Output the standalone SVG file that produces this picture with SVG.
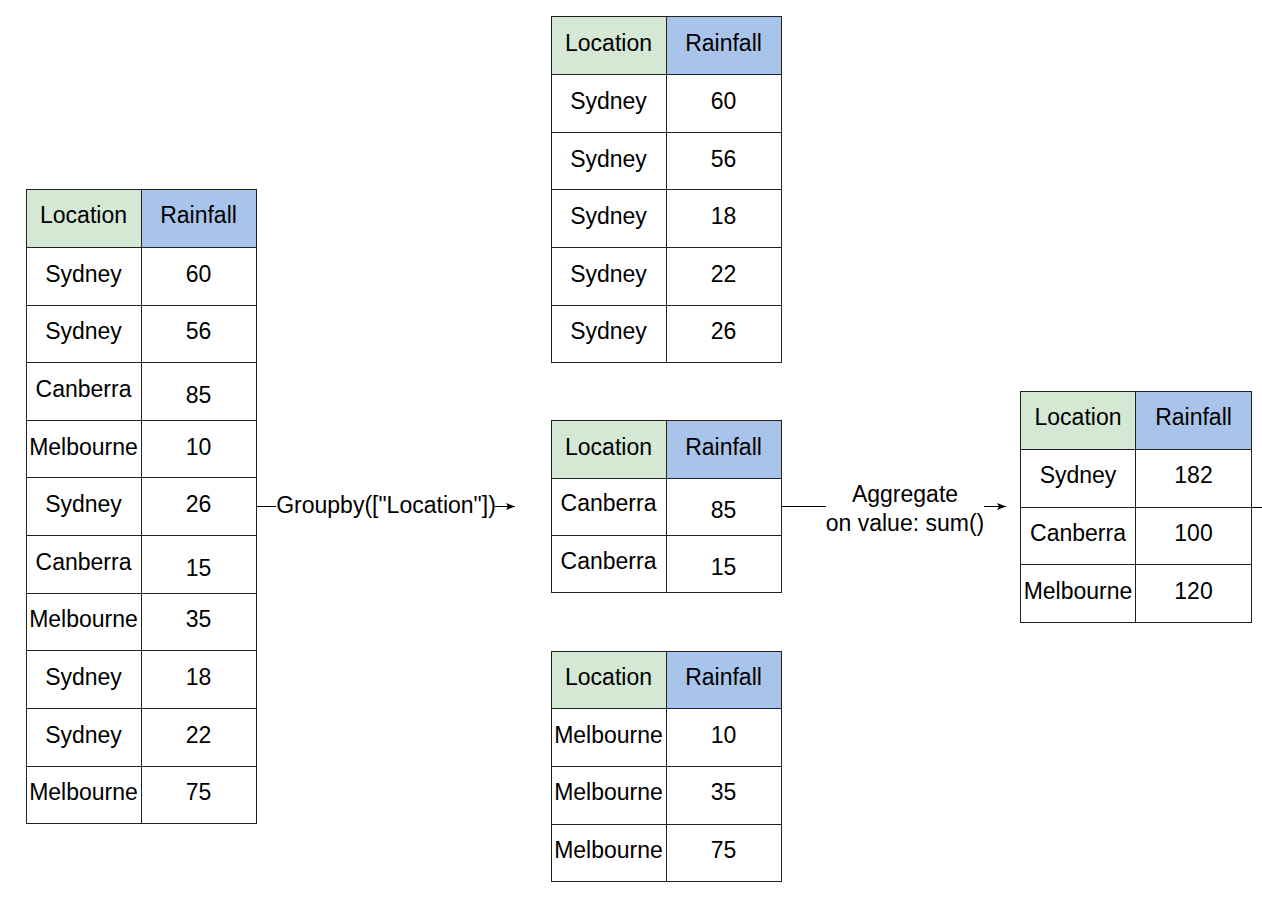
<svg xmlns="http://www.w3.org/2000/svg" width="1262" height="901" viewBox="0 0 1262 901">
<style>
.c{fill:#ffffff;stroke:#222222;stroke-width:1}
.hl{fill:#d5e8d4;stroke:#222222;stroke-width:1}
.hr{fill:#a9c4eb;stroke:#222222;stroke-width:1}
text{font-family:"Liberation Sans",Arial,sans-serif;font-size:23px;fill:#000;text-anchor:middle}
.ln{stroke:#000;stroke-width:1;fill:none}
</style>
<defs>
<marker id="ah" markerWidth="10" markerHeight="8" refX="9" refY="4" orient="auto" markerUnits="userSpaceOnUse">
<path d="M0,0.5 L9,4 L0,7.5 L2,4 Z" fill="#000"/>
</marker>
</defs>

<g id="table-input">
<rect class="hl" x="26.5" y="189.5" width="115" height="58"/>
<rect class="hr" x="141.5" y="189.5" width="115" height="58"/>
<rect class="c" x="26.5" y="247.5" width="115" height="58"/><rect class="c" x="141.5" y="247.5" width="115" height="58"/>
<rect class="c" x="26.5" y="305.5" width="115" height="57"/><rect class="c" x="141.5" y="305.5" width="115" height="57"/>
<rect class="c" x="26.5" y="362.5" width="115" height="58"/><rect class="c" x="141.5" y="362.5" width="115" height="58"/>
<rect class="c" x="26.5" y="420.5" width="115" height="57"/><rect class="c" x="141.5" y="420.5" width="115" height="57"/>
<rect class="c" x="26.5" y="477.5" width="115" height="58"/><rect class="c" x="141.5" y="477.5" width="115" height="58"/>
<rect class="c" x="26.5" y="535.5" width="115" height="58"/><rect class="c" x="141.5" y="535.5" width="115" height="58"/>
<rect class="c" x="26.5" y="593.5" width="115" height="57"/><rect class="c" x="141.5" y="593.5" width="115" height="57"/>
<rect class="c" x="26.5" y="650.5" width="115" height="58"/><rect class="c" x="141.5" y="650.5" width="115" height="58"/>
<rect class="c" x="26.5" y="708.5" width="115" height="58"/><rect class="c" x="141.5" y="708.5" width="115" height="58"/>
<rect class="c" x="26.5" y="766.5" width="115" height="57"/><rect class="c" x="141.5" y="766.5" width="115" height="57"/>
<text x="83.5" y="223">Location</text><text x="198.5" y="223">Rainfall</text>
<text x="83.5" y="282">Sydney</text><text x="198.5" y="282">60</text>
<text x="83.5" y="339">Sydney</text><text x="198.5" y="339">56</text>
<text x="83.5" y="397">Canberra</text><text x="198.5" y="403">85</text>
<text x="83.5" y="455">Melbourne</text><text x="198.5" y="455">10</text>
<text x="83.5" y="512">Sydney</text><text x="198.5" y="512">26</text>
<text x="83.5" y="570">Canberra</text><text x="198.5" y="576">15</text>
<text x="83.5" y="627">Melbourne</text><text x="198.5" y="627">35</text>
<text x="83.5" y="685">Sydney</text><text x="198.5" y="685">18</text>
<text x="83.5" y="743">Sydney</text><text x="198.5" y="743">22</text>
<text x="83.5" y="800">Melbourne</text><text x="198.5" y="800">75</text>
</g>

<g id="table-sydney">
<rect class="hl" x="551.5" y="16.5" width="115" height="58"/>
<rect class="hr" x="666.5" y="16.5" width="115" height="58"/>
<rect class="c" x="551.5" y="74.5" width="115" height="58"/><rect class="c" x="666.5" y="74.5" width="115" height="58"/>
<rect class="c" x="551.5" y="132.5" width="115" height="57"/><rect class="c" x="666.5" y="132.5" width="115" height="57"/>
<rect class="c" x="551.5" y="189.5" width="115" height="58"/><rect class="c" x="666.5" y="189.5" width="115" height="58"/>
<rect class="c" x="551.5" y="247.5" width="115" height="58"/><rect class="c" x="666.5" y="247.5" width="115" height="58"/>
<rect class="c" x="551.5" y="305.5" width="115" height="57"/><rect class="c" x="666.5" y="305.5" width="115" height="57"/>
<text x="608.5" y="51">Location</text><text x="723.5" y="51">Rainfall</text>
<text x="608.5" y="109">Sydney</text><text x="723.5" y="109">60</text>
<text x="608.5" y="167">Sydney</text><text x="723.5" y="167">56</text>
<text x="608.5" y="224">Sydney</text><text x="723.5" y="224">18</text>
<text x="608.5" y="282">Sydney</text><text x="723.5" y="282">22</text>
<text x="608.5" y="339">Sydney</text><text x="723.5" y="339">26</text>
</g>

<g id="table-canberra">
<rect class="hl" x="551.5" y="420.5" width="115" height="58"/>
<rect class="hr" x="666.5" y="420.5" width="115" height="58"/>
<rect class="c" x="551.5" y="478.5" width="115" height="57"/><rect class="c" x="666.5" y="478.5" width="115" height="57"/>
<rect class="c" x="551.5" y="535.5" width="115" height="57"/><rect class="c" x="666.5" y="535.5" width="115" height="57"/>
<text x="608.5" y="455">Location</text><text x="723.5" y="455">Rainfall</text>
<text x="608.5" y="511">Canberra</text><text x="723.5" y="518">85</text>
<text x="608.5" y="569">Canberra</text><text x="723.5" y="575">15</text>
</g>

<g id="table-melbourne">
<rect class="hl" x="551.5" y="651.5" width="115" height="57"/>
<rect class="hr" x="666.5" y="651.5" width="115" height="57"/>
<rect class="c" x="551.5" y="708.5" width="115" height="58"/><rect class="c" x="666.5" y="708.5" width="115" height="58"/>
<rect class="c" x="551.5" y="766.5" width="115" height="58"/><rect class="c" x="666.5" y="766.5" width="115" height="58"/>
<rect class="c" x="551.5" y="824.5" width="115" height="57"/><rect class="c" x="666.5" y="824.5" width="115" height="57"/>
<text x="608.5" y="685">Location</text><text x="723.5" y="685">Rainfall</text>
<text x="608.5" y="743">Melbourne</text><text x="723.5" y="743">10</text>
<text x="608.5" y="800">Melbourne</text><text x="723.5" y="800">35</text>
<text x="608.5" y="858">Melbourne</text><text x="723.5" y="858">75</text>
</g>

<g id="table-result">
<rect class="hl" x="1020.5" y="391.5" width="115" height="58"/>
<rect class="hr" x="1135.5" y="391.5" width="116" height="58"/>
<rect class="c" x="1020.5" y="449.5" width="115" height="58"/><rect class="c" x="1135.5" y="449.5" width="116" height="58"/>
<rect class="c" x="1020.5" y="507.5" width="115" height="57"/><rect class="c" x="1135.5" y="507.5" width="116" height="57"/>
<rect class="c" x="1020.5" y="564.5" width="115" height="58"/><rect class="c" x="1135.5" y="564.5" width="116" height="58"/>
<text x="1078" y="425">Location</text><text x="1193.5" y="425">Rainfall</text>
<text x="1078" y="483">Sydney</text><text x="1193.5" y="483">182</text>
<text x="1078" y="541">Canberra</text><text x="1193.5" y="541">100</text>
<text x="1078" y="599">Melbourne</text><text x="1193.5" y="599">120</text>
</g>

<g id="connectors">
<line class="ln" x1="256" y1="506.5" x2="276" y2="506.5"/>
<line class="ln" x1="495" y1="506.5" x2="515" y2="506.5" marker-end="url(#ah)"/>
<text x="386" y="513">Groupby(["Location"])</text>
<line class="ln" x1="781" y1="506.5" x2="826" y2="506.5"/>
<line class="ln" x1="984" y1="506.5" x2="1006" y2="506.5" marker-end="url(#ah)"/>
<text x="905" y="502">Aggregate</text>
<text x="905" y="531">on value: sum()</text>
<line class="ln" x1="1251" y1="507.5" x2="1262" y2="507.5"/>
</g>
</svg>
